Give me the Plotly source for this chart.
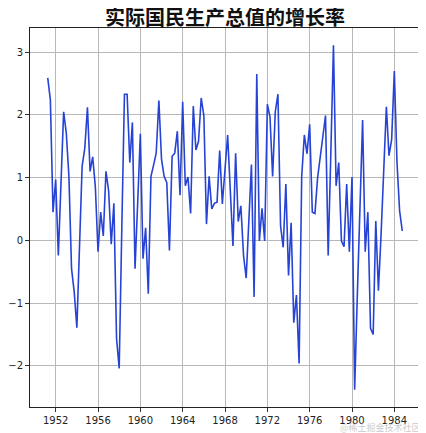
import pandas as pd
import plotly.graph_objects as go

title_text = "实际国民生产总值的增长率"
watermark_text = "@稀土掘金技术社区"
start_quarter = "1951-04-01"
growth = [
    2.59, 2.24, 0.45, 0.97, -0.24, 0.95, 2.05, 1.71, 1.02, -0.45,
    -0.82, -1.39, -0.10, 1.18, 1.47, 2.12, 1.10, 1.33, 0.85, -0.18,
    0.45, 0.07, 1.10, 0.79, -0.06, 0.59, -1.56, -2.04, 0.20, 2.33,
    2.33, 1.24, 1.88, -0.45, 0.60, 1.70, -0.29, 0.20, -0.85, 1.02,
    1.20, 1.39, 2.23, 1.29, 1.02, 0.92, -0.16, 1.34, 1.39, 1.74,
    0.72, 2.21, 0.87, 1.01, 0.43, 2.14, 1.44, 1.58, 2.27, 1.99,
    0.26, 1.02, 0.50, 0.59, 0.61, 1.43, 0.58, 1.10, 1.68, 0.80,
    -0.09, 1.39, 0.30, 0.55, -0.24, -0.60, 0.30, 1.21, -0.90, 2.65,
    -0.01, 0.51, -0.01, 2.17, 1.97, 1.02, 2.05, 2.33, 0.23, -0.11,
    0.90, -0.56, 0.28, -1.31, -0.87, -1.96, 1.02, 1.68, 1.38, 1.85,
    0.45, 0.43, 1.00, 1.37, 1.66, 1.99, -0.24, 1.40, 3.11, 0.87,
    1.24, -0.01, -0.10, 0.90, -0.18, 1.01, -2.38, -0.90, 0.50, 1.92,
    -0.18, 0.45, -1.40, -1.50, 0.31, -0.80, 0.10, 1.10, 2.13, 1.35,
    1.61, 2.70, 1.25, 0.47, 0.15,
]
tick_years = [1952, 1956, 1960, 1964, 1968, 1972, 1976, 1980, 1984]

dates = pd.date_range(start_quarter, periods=len(growth), freq="QS")

# matplotlib-like 5% margins
span = dates[-1] - dates[0]
x_range = [dates[0] - span * 0.05, dates[-1] + span * 0.05]
ymin, ymax = min(growth), max(growth)
yspan = ymax - ymin
y_range = [ymin - 0.05 * yspan, ymax + 0.05 * yspan]

# page has an 8px body margin; size figure so it fits the 426x433 window
W, H = 418, 425
L, R, T, B = 22, 6, 20, 26
plot_w, plot_h = W - L - R, H - T - B

fig = go.Figure()
fig.add_trace(go.Scatter(
    x=dates, y=growth, mode="lines",
    line=dict(color="#2643d6", width=1.6),
    hoverinfo="skip",
))

axis_common = dict(
    showline=True, linecolor="#222222", linewidth=1, mirror=True,
    ticks="outside", ticklen=4, tickcolor="#333333", tickwidth=1,
    showgrid=True, gridcolor="#b8b8b8", gridwidth=0.8,
    zeroline=False, automargin=False,
    tickfont=dict(family="DejaVu Sans", size=10, color="#222222"),
)

fig.update_xaxes(
    range=x_range,
    tickvals=[pd.Timestamp(f"{y}-01-01") for y in tick_years],
    ticktext=[str(y) for y in tick_years],
    **axis_common,
)
fig.update_yaxes(
    range=y_range,
    tickvals=[-2, -1, 0, 1, 2, 3],
    ticktext=["−2", "−1", "0", "1", "2", "3"],
    **axis_common,
)

fig.update_layout(
    width=W, height=H,
    margin=dict(l=L, r=R, t=T, b=B),
    paper_bgcolor="white", plot_bgcolor="white",
    showlegend=False,
    title=dict(
        text=f"<b>{title_text}</b>",
        x=(L + plot_w / 2) / W, xanchor="center",
        y=1 - 10 / H, yanchor="middle",
        font=dict(family="Noto Sans CJK SC", size=20, color="#111111"),
    ),
)

fig.add_annotation(
    text=watermark_text, xref="paper", yref="paper",
    x=(W - 3 - L) / plot_w, y=-(H - 5.5 - (H - B)) / plot_h,
    xanchor="right", yanchor="middle",
    showarrow=False,
    font=dict(family="Noto Sans CJK SC", size=9, color="rgba(185,185,185,0.75)"),
)

fig.write_html("out.html")
